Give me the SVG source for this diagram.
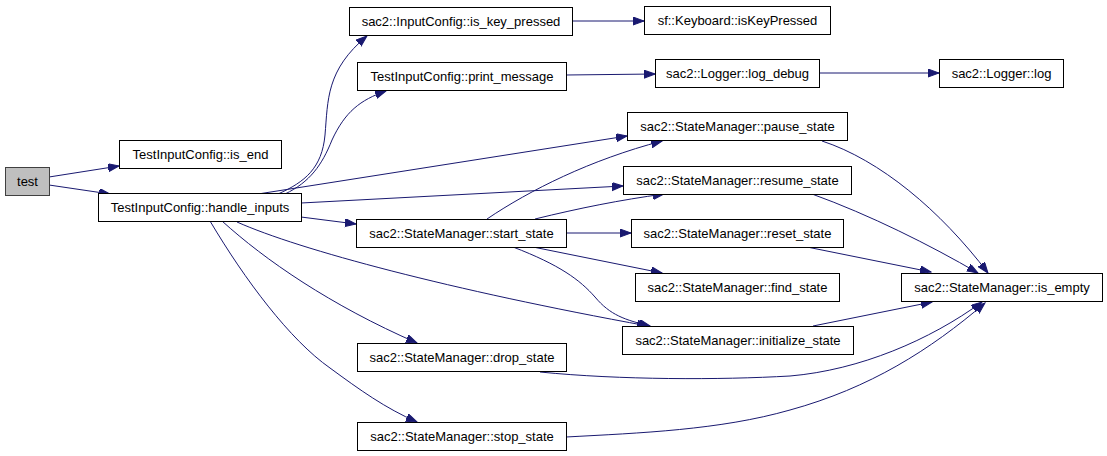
<svg xmlns="http://www.w3.org/2000/svg" width="1107" height="456" viewBox="0 0 1107 456">
<style>
.n rect{fill:#ffffff;stroke:#000000;stroke-width:1}
.n.g rect{fill:#bfbfbf;stroke:#404040}
.n text{font-family:"Liberation Sans",Arial,sans-serif;font-size:13px;fill:#000000;text-anchor:middle}
#edges path{fill:none;stroke:#191970;stroke-width:1;marker-end:url(#ah)}
</style>
<defs>
<marker id="ah" markerUnits="userSpaceOnUse" markerWidth="12" markerHeight="9" refX="11" refY="4" orient="auto">
<path d="M0,0 L11,4 L0,8 z" fill="#191970" stroke="#191970" stroke-width="1"/>
</marker>
</defs>
<rect width="1107" height="456" fill="#ffffff"/>
<g id="edges">
<path d="M49,177 L119,166"/>
<path d="M49,185 L110,194"/>
<path d="M278,194 C305,182 322,168 325,135 C328,100 326,70 367,36"/>
<path d="M285,194 C310,182 322,165 332,140 C345,112 360,100 386,91"/>
<path d="M258,194 L627,136"/>
<path d="M301,203 L623,186"/>
<path d="M301,217 L356,224"/>
<path d="M237,222 C300,250 450,290 648,326"/>
<path d="M222,221 C265,260 330,305 417,343"/>
<path d="M210,221 C245,280 290,340 330,368 C360,390 385,408 417,422"/>
<path d="M487,219 C530,190 590,160 662,141"/>
<path d="M535,219 C580,208 620,200 664,194"/>
<path d="M566,233 L631,233"/>
<path d="M533,247 L662,273"/>
<path d="M513,247 C560,265 580,280 595,297 C610,315 625,320 650,326"/>
<path d="M572,21 L644,21"/>
<path d="M566,75 L655,74"/>
<path d="M819,73 L939,73"/>
<path d="M822,141 C880,160 940,210 988,273"/>
<path d="M812,194 C870,215 930,245 978,273"/>
<path d="M807,247 L931,272"/>
<path d="M813,326 L932,302"/>
<path d="M540,372 C620,380 720,380 790,376 C860,370 930,340 982,302"/>
<path d="M566,437 C640,433 720,430 790,410 C870,388 930,350 985,303"/>
</g>
<g id="n_test" class="n g"><rect x="5.5" y="167.5" width="44" height="28"/><text x="27.5" y="186">test</text></g>
<g id="n_is_end" class="n"><rect x="119.5" y="140.5" width="162" height="28"/><text x="200.5" y="159">TestInputConfig::is_end</text></g>
<g id="n_handle_inputs" class="n"><rect x="98.5" y="193.5" width="203" height="28"/><text x="200" y="212">TestInputConfig::handle_inputs</text></g>
<g id="n_is_key_pressed" class="n"><rect x="349.5" y="7.5" width="223" height="28"/><text x="461" y="26">sac2::InputConfig::is_key_pressed</text></g>
<g id="n_print_message" class="n"><rect x="357.5" y="62.5" width="209" height="28"/><text x="462" y="81">TestInputConfig::print_message</text></g>
<g id="n_keyboard" class="n"><rect x="644.5" y="6.5" width="186" height="28"/><text x="737.5" y="25">sf::Keyboard::isKeyPressed</text></g>
<g id="n_log_debug" class="n"><rect x="655.5" y="59.5" width="164" height="28"/><text x="737.5" y="78">sac2::Logger::log_debug</text></g>
<g id="n_log" class="n"><rect x="939.5" y="59.5" width="124" height="28"/><text x="1001.5" y="78">sac2::Logger::log</text></g>
<g id="n_pause_state" class="n"><rect x="627.5" y="112.5" width="220" height="28"/><text x="737.5" y="131">sac2::StateManager::pause_state</text></g>
<g id="n_resume_state" class="n"><rect x="623.5" y="166.5" width="228" height="28"/><text x="737.5" y="185">sac2::StateManager::resume_state</text></g>
<g id="n_reset_state" class="n"><rect x="631.5" y="219.5" width="212" height="28"/><text x="737.5" y="238">sac2::StateManager::reset_state</text></g>
<g id="n_find_state" class="n"><rect x="635.5" y="273.5" width="204" height="28"/><text x="737.5" y="292">sac2::StateManager::find_state</text></g>
<g id="n_initialize_state" class="n"><rect x="622.5" y="326.5" width="231" height="28"/><text x="738" y="345">sac2::StateManager::initialize_state</text></g>
<g id="n_start_state" class="n"><rect x="356.5" y="219.5" width="210" height="28"/><text x="461.5" y="238">sac2::StateManager::start_state</text></g>
<g id="n_is_empty" class="n"><rect x="901.5" y="273.5" width="201" height="28"/><text x="1002" y="292">sac2::StateManager::is_empty</text></g>
<g id="n_drop_state" class="n"><rect x="357.5" y="343.5" width="209" height="28"/><text x="462" y="362">sac2::StateManager::drop_state</text></g>
<g id="n_stop_state" class="n"><rect x="357.5" y="422.5" width="209" height="28"/><text x="462" y="441">sac2::StateManager::stop_state</text></g>
</svg>
